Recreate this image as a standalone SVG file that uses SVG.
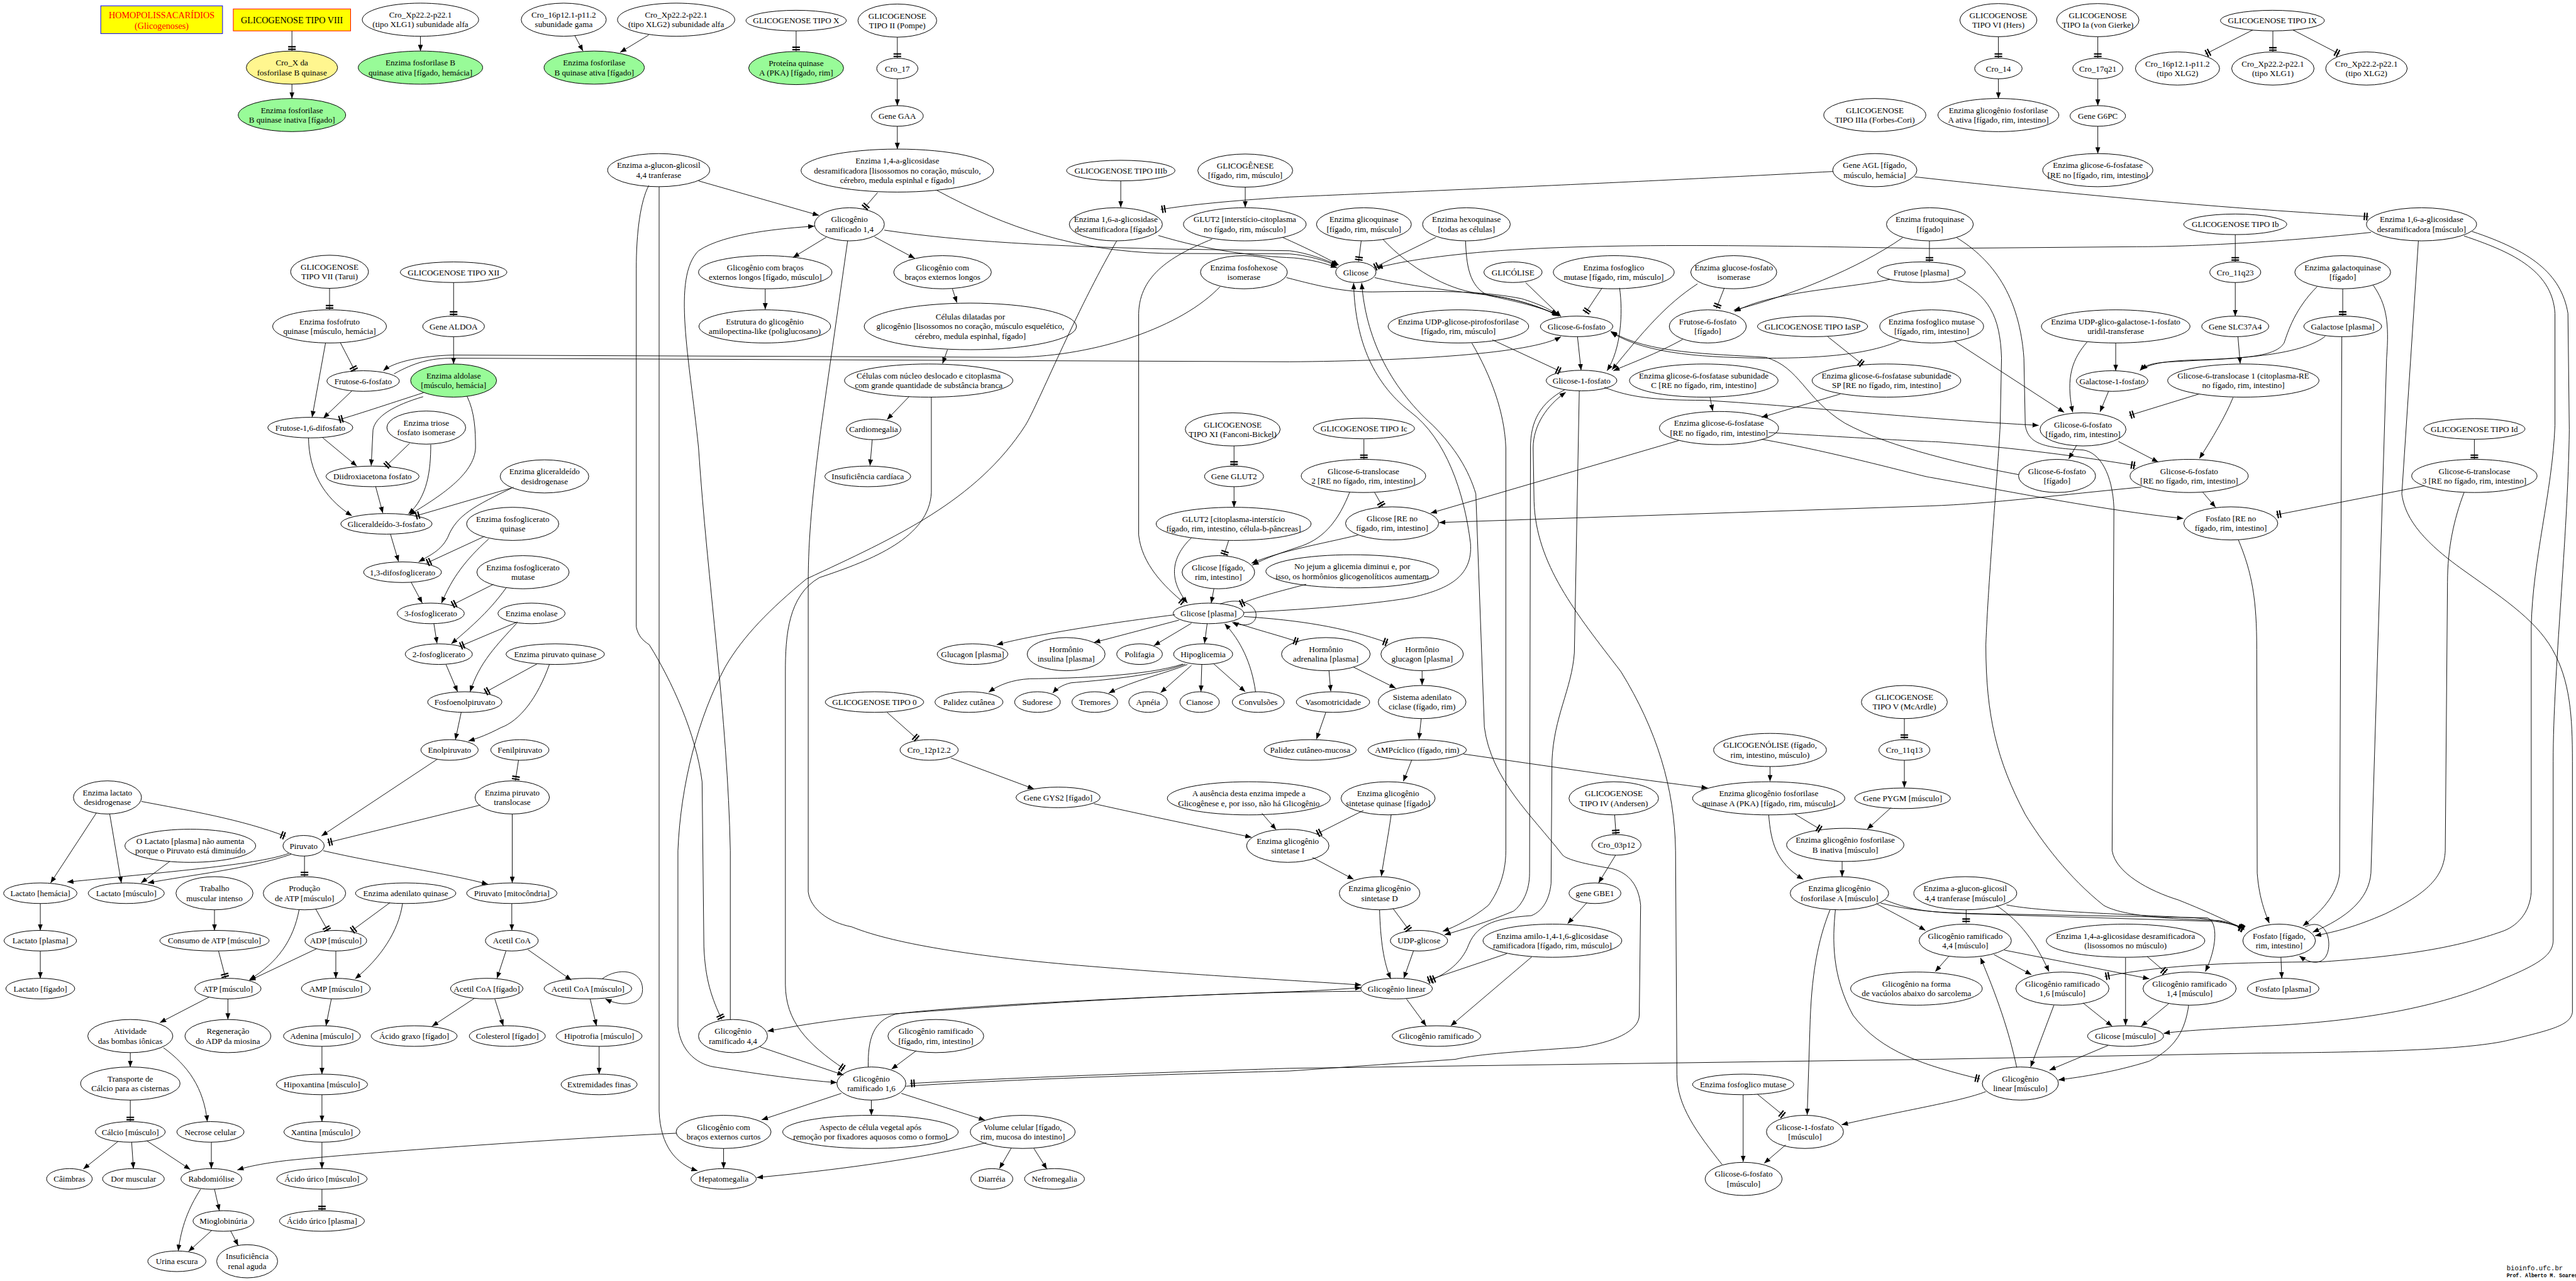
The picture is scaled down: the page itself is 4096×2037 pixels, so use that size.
<svg xmlns="http://www.w3.org/2000/svg" width="4096" height="2037" viewBox="0 0 4096 2037">
<defs>
<style>
ellipse{fill:#fff;stroke:#000;stroke-width:1.4}
ellipse.g{fill:#98fb98}
ellipse.y{fill:#fff68f}
text{font-family:"Liberation Serif","Times New Roman",serif;font-size:18.5px;text-anchor:middle;fill:#000}
#edges path{fill:none;stroke:#000;stroke-width:1.3}
#edges path.a{marker-end:url(#ah)}
#edges path.t{marker-end:url(#tt)}
</style>
<marker id="ah" viewBox="0 0 14 11" refX="14" refY="5.5" markerWidth="14" markerHeight="11" orient="auto" markerUnits="userSpaceOnUse"><path d="M0,0L14,5.5L0,11z" fill="#000"/></marker>
<marker id="tt" viewBox="-12 -9 12 18" refX="0" refY="0" markerWidth="12" markerHeight="18" orient="auto" markerUnits="userSpaceOnUse"><path d="M-11,-8.5h3v17h-3zM-5.5,-8.5h3v17h-3z" fill="#000"/></marker>
</defs>
<rect width="4096" height="2037" fill="#fff"/>
<g transform="scale(0.71198)">
<g id="nodes">
<g id="homo"><rect x="225" y="13" width="272" height="62" fill="#ff0" stroke="#00f" stroke-width="1.4"/><text x="361" y="41" fill="#f00" style="fill:#f00;font-size:20px">HOMOPOLISSACARÍDIOS<tspan x="361" dy="24">(Glicogenoses)</tspan></text></g>
<g id="gviii"><rect x="521" y="20" width="262" height="49" fill="#ff0" stroke="#f00" stroke-width="1.4"/><text x="652" y="51.5" style="font-size:20px">GLICOGENOSE TIPO VIII</text></g>
<g id="n3"><ellipse class="y" cx="652" cy="151" rx="102" ry="37"/><text x="652" y="146.5">Cro_X da<tspan x="652" dy="21.5">fosforilase B quinase</tspan></text></g>
<g id="n4"><ellipse class="g" cx="652" cy="257" rx="120" ry="37"/><text x="652" y="252.5">Enzima fosforilase<tspan x="652" dy="21.5">B quinase inativa [fígado]</tspan></text></g>
<g id="n5"><ellipse cx="939" cy="44" rx="130" ry="37"/><text x="939" y="39.5">Cro_Xp22.2-p22.1<tspan x="939" dy="21.5">(tipo XLG1) subunidade alfa</tspan></text></g>
<g id="n6"><ellipse class="g" cx="939" cy="151" rx="139" ry="37"/><text x="939" y="146.5">Enzima fosforilase B<tspan x="939" dy="21.5">quinase ativa [fígado, hemácia]</tspan></text></g>
<g id="n7"><ellipse cx="1259" cy="44" rx="95" ry="37"/><text x="1259" y="39.5">Cro_16p12.1-p11.2<tspan x="1259" dy="21.5">subunidade gama</tspan></text></g>
<g id="n8"><ellipse class="g" cx="1327" cy="151" rx="112" ry="37"/><text x="1327" y="146.5">Enzima fosforilase<tspan x="1327" dy="21.5">B quinase ativa [fígado]</tspan></text></g>
<g id="n9"><ellipse cx="1510" cy="44" rx="131" ry="37"/><text x="1510" y="39.5">Cro_Xp22.2-p22.1<tspan x="1510" dy="21.5">(tipo XLG2) subunidade alfa</tspan></text></g>
<g id="n10"><ellipse cx="1778" cy="46" rx="112" ry="23"/><text x="1778" y="52.5">GLICOGENOSE TIPO X</text></g>
<g id="n11"><ellipse class="g" cx="1778" cy="152" rx="106" ry="37"/><text x="1778" y="147.5">Proteína quinase<tspan x="1778" dy="21.5">A (PKA) [fígado, rim]</tspan></text></g>
<g id="n12"><ellipse cx="2004" cy="46" rx="88" ry="37"/><text x="2004" y="41.5">GLICOGENOSE<tspan x="2004" dy="21.5">TIPO II (Pompe)</tspan></text></g>
<g id="n13"><ellipse cx="2004" cy="153" rx="46" ry="23"/><text x="2004" y="159.5">Cro_17</text></g>
<g id="n14"><ellipse cx="2004" cy="259" rx="58" ry="23"/><text x="2004" y="265.5">Gene GAA</text></g>
<g id="n15"><ellipse cx="2004" cy="381" rx="215" ry="48"/><text x="2004" y="365.5">Enzima 1,4-a-glicosidase<tspan x="2004" dy="21.5">desramificadora [lisossomos no coração, músculo,</tspan><tspan x="2004" dy="21.5">cérebro, medula espinhal e fígado]</tspan></text></g>
<g id="n16"><ellipse cx="1471" cy="380" rx="114" ry="37"/><text x="1471" y="375.5">Enzima a-glucon-glicosil<tspan x="1471" dy="21.5">4,4 tranferase</tspan></text></g>
<g id="n17"><ellipse cx="1897" cy="501" rx="78" ry="37"/><text x="1897" y="496.5">Glicogênio<tspan x="1897" dy="21.5">ramificado 1,4</tspan></text></g>
<g id="n18"><ellipse cx="1709" cy="608" rx="149" ry="37"/><text x="1709" y="603.5">Glicogênio com braços<tspan x="1709" dy="21.5">externos longos [fígado, músculo]</tspan></text></g>
<g id="n19"><ellipse cx="2105" cy="608" rx="109" ry="37"/><text x="2105" y="603.5">Glicogênio com<tspan x="2105" dy="21.5">braços externos longos</tspan></text></g>
<g id="n20"><ellipse cx="1708" cy="729" rx="147" ry="37"/><text x="1708" y="724.5">Estrutura do glicogênio<tspan x="1708" dy="21.5">amilopectina-like (poliglucosano)</tspan></text></g>
<g id="n21"><ellipse cx="2167" cy="729" rx="237" ry="52"/><text x="2167" y="713.5">Células dilatadas por<tspan x="2167" dy="21.5">glicogênio [lisossomos no coração, músculo esquelético,</tspan><tspan x="2167" dy="21.5">cérebro, medula espinhal, fígado]</tspan></text></g>
<g id="n22"><ellipse cx="2074" cy="850" rx="188" ry="37"/><text x="2074" y="845.5">Células com núcleo deslocado e citoplasma<tspan x="2074" dy="21.5">com grande quantidade de substância branca</tspan></text></g>
<g id="n23"><ellipse cx="1951" cy="959" rx="61" ry="23"/><text x="1951" y="965.5">Cardiomegalia</text></g>
<g id="n24"><ellipse cx="1938" cy="1064" rx="96" ry="23"/><text x="1938" y="1070.5">Insuficiência cardíaca</text></g>
<g id="n25"><ellipse cx="2503" cy="381" rx="121" ry="23"/><text x="2503" y="387.5">GLICOGENOSE TIPO IIIb</text></g>
<g id="n26"><ellipse cx="2492" cy="501" rx="104" ry="37"/><text x="2492" y="496.5">Enzima 1,6-a-glicosidase<tspan x="2492" dy="21.5">desramificadora [fígado]</tspan></text></g>
<g id="n27"><ellipse cx="2781" cy="381" rx="106" ry="37"/><text x="2781" y="376.5">GLICOGÊNESE<tspan x="2781" dy="21.5">[fígado, rim, músculo]</tspan></text></g>
<g id="n28"><ellipse cx="2780" cy="501" rx="137" ry="37"/><text x="2780" y="496.5">GLUT2 [interstício-citoplasma<tspan x="2780" dy="21.5">no fígado, rim, músculo]</tspan></text></g>
<g id="n29"><ellipse cx="2778" cy="608" rx="97" ry="37"/><text x="2778" y="603.5">Enzima fosfohexose<tspan x="2778" dy="21.5">isomerase</tspan></text></g>
<g id="n30"><ellipse cx="4187" cy="257" rx="114" ry="37"/><text x="4187" y="252.5">GLICOGENOSE<tspan x="4187" dy="21.5">TIPO IIIa (Forbes-Cori)</tspan></text></g>
<g id="n31"><ellipse cx="4187" cy="380" rx="94" ry="37"/><text x="4187" y="375.5">Gene AGL [fígado,<tspan x="4187" dy="21.5">músculo, hemácia]</tspan></text></g>
<g id="n32"><ellipse cx="3046" cy="501" rx="106" ry="37"/><text x="3046" y="496.5">Enzima glicoquinase<tspan x="3046" dy="21.5">[fígado, rim, músculo]</tspan></text></g>
<g id="n33"><ellipse cx="3275" cy="501" rx="98" ry="37"/><text x="3275" y="496.5">Enzima hexoquinase<tspan x="3275" dy="21.5">[todas as células]</tspan></text></g>
<g id="n34"><ellipse cx="3028" cy="608" rx="45" ry="23"/><text x="3028" y="614.5">Glicose</text></g>
<g id="n35"><ellipse cx="3379" cy="608" rx="65" ry="23"/><text x="3379" y="614.5">GLICÓLISE</text></g>
<g id="n36"><ellipse cx="3604" cy="608" rx="135" ry="37"/><text x="3604" y="603.5">Enzima fosfoglico<tspan x="3604" dy="21.5">mutase [fígado, rim, músculo]</tspan></text></g>
<g id="n37"><ellipse cx="3872" cy="608" rx="96" ry="37"/><text x="3872" y="603.5">Enzima glucose-fosfato<tspan x="3872" dy="21.5">isomerase</tspan></text></g>
<g id="n38"><ellipse cx="4310" cy="501" rx="97" ry="37"/><text x="4310" y="496.5">Enzima frutoquinase<tspan x="4310" dy="21.5">[fígado]</tspan></text></g>
<g id="n39"><ellipse cx="4291" cy="608" rx="98" ry="23"/><text x="4291" y="614.5">Frutose [plasma]</text></g>
<g id="n40"><ellipse cx="3521" cy="729" rx="81" ry="23"/><text x="3521" y="735.5">Glicose-6-fosfato</text></g>
<g id="n41"><ellipse cx="3257" cy="729" rx="157" ry="37"/><text x="3257" y="724.5">Enzima UDP-glicose-pirofosforilase<tspan x="3257" dy="21.5">[fígado, rim, músculo]</tspan></text></g>
<g id="n42"><ellipse cx="3814" cy="729" rx="86" ry="37"/><text x="3814" y="724.5">Frutose-6-fosfato<tspan x="3814" dy="21.5">[fígado]</tspan></text></g>
<g id="n43"><ellipse cx="4048" cy="729" rx="123" ry="23"/><text x="4048" y="735.5">GLICOGENOSE TIPO IaSP</text></g>
<g id="n44"><ellipse cx="4314" cy="729" rx="116" ry="37"/><text x="4314" y="724.5">Enzima fosfoglico mutase<tspan x="4314" dy="21.5">[fígado, rim, intestino]</tspan></text></g>
<g id="n45"><ellipse cx="3532" cy="850" rx="79" ry="23"/><text x="3532" y="856.5">Glicose-1-fosfato</text></g>
<g id="n46"><ellipse cx="3805" cy="850" rx="166" ry="37"/><text x="3805" y="845.5">Enzima glicose-6-fosfatase subunidade<tspan x="3805" dy="21.5">C [RE no fígado, rim, intestino]</tspan></text></g>
<g id="n47"><ellipse cx="4213" cy="850" rx="166" ry="37"/><text x="4213" y="845.5">Enzima glicose-6-fosfatase subunidade<tspan x="4213" dy="21.5">SP [RE no fígado, rim, intestino]</tspan></text></g>
<g id="n48"><ellipse cx="3839" cy="956" rx="133" ry="37"/><text x="3839" y="951.5">Enzima glicose-6-fosfatase<tspan x="3839" dy="21.5">[RE no fígado, rim, intestino]</tspan></text></g>
<g id="n49"><ellipse cx="3046" cy="957" rx="113" ry="23"/><text x="3046" y="963.5">GLICOGENOSE TIPO Ic</text></g>
<g id="n50"><ellipse cx="4463" cy="45" rx="86" ry="37"/><text x="4463" y="40.5">GLICOGENOSE<tspan x="4463" dy="21.5">TIPO VI (Hers)</tspan></text></g>
<g id="n51"><ellipse cx="4463" cy="153" rx="53" ry="23"/><text x="4463" y="159.5">Cro_14</text></g>
<g id="n52"><ellipse cx="4463" cy="257" rx="135" ry="37"/><text x="4463" y="252.5">Enzima glicogênio fosforilase<tspan x="4463" dy="21.5">A ativa [fígado, rim, intestino]</tspan></text></g>
<g id="n53"><ellipse cx="4685" cy="45" rx="92" ry="37"/><text x="4685" y="40.5">GLICOGENOSE<tspan x="4685" dy="21.5">TIPO Ia (von Gierke)</tspan></text></g>
<g id="n54"><ellipse cx="4685" cy="153" rx="56" ry="23"/><text x="4685" y="159.5">Cro_17q21</text></g>
<g id="n55"><ellipse cx="4685" cy="259" rx="62" ry="23"/><text x="4685" y="265.5">Gene G6PC</text></g>
<g id="n56"><ellipse cx="4685" cy="380" rx="123" ry="37"/><text x="4685" y="375.5">Enzima glicose-6-fosfatase<tspan x="4685" dy="21.5">[RE no [fígado, rim, intestino]</tspan></text></g>
<g id="n57"><ellipse cx="5075" cy="46" rx="116" ry="23"/><text x="5075" y="52.5">GLICOGENOSE TIPO IX</text></g>
<g id="n58"><ellipse cx="4863" cy="153" rx="94" ry="37"/><text x="4863" y="148.5">Cro_16p12.1-p11.2<tspan x="4863" dy="21.5">(tipo XLG2)</tspan></text></g>
<g id="n59"><ellipse cx="5076" cy="153" rx="92" ry="37"/><text x="5076" y="148.5">Cro_Xp22.2-p22.1<tspan x="5076" dy="21.5">(tipo XLG1)</tspan></text></g>
<g id="n60"><ellipse cx="5285" cy="153" rx="91" ry="37"/><text x="5285" y="148.5">Cro_Xp22.2-p22.1<tspan x="5285" dy="21.5">(tipo XLG2)</tspan></text></g>
<g id="n61"><ellipse cx="5408" cy="501" rx="123" ry="37"/><text x="5408" y="496.5">Enzima 1,6-a-glicosidase<tspan x="5408" dy="21.5">desramificadora [músculo]</tspan></text></g>
<g id="n62"><ellipse cx="4992" cy="501" rx="115" ry="23"/><text x="4992" y="507.5">GLICOGENOSE TIPO Ib</text></g>
<g id="n63"><ellipse cx="4992" cy="608" rx="57" ry="23"/><text x="4992" y="614.5">Cro_11q23</text></g>
<g id="n64"><ellipse cx="4992" cy="729" rx="75" ry="23"/><text x="4992" y="735.5">Gene SLC37A4</text></g>
<g id="n65"><ellipse cx="5010" cy="850" rx="169" ry="37"/><text x="5010" y="845.5">Glicose-6-translocase 1 (citoplasma-RE<tspan x="5010" dy="21.5">no fígado, rim, intestino]</tspan></text></g>
<g id="n66"><ellipse cx="5232" cy="608" rx="107" ry="37"/><text x="5232" y="603.5">Enzima galactoquinase<tspan x="5232" dy="21.5">[fígado]</tspan></text></g>
<g id="n67"><ellipse cx="5232" cy="729" rx="87" ry="23"/><text x="5232" y="735.5">Galactose [plasma]</text></g>
<g id="n68"><ellipse cx="4725" cy="729" rx="166" ry="37"/><text x="4725" y="724.5">Enzima UDP-glico-galactose-1-fosfato<tspan x="4725" dy="21.5">uridil-transferase</tspan></text></g>
<g id="n69"><ellipse cx="4717" cy="851" rx="80" ry="23"/><text x="4717" y="857.5">Galactose-1-fosfato</text></g>
<g id="n70"><ellipse cx="4652" cy="959" rx="96" ry="37"/><text x="4652" y="954.5">Glicose-6-fosfato<tspan x="4652" dy="21.5">[fígado, rim, intestino]</tspan></text></g>
<g id="n71"><ellipse cx="5526" cy="958" rx="113" ry="23"/><text x="5526" y="964.5">GLICOGENOSE TIPO Id</text></g>
<g id="n72"><ellipse cx="4594" cy="1063" rx="86" ry="37"/><text x="4594" y="1058.5">Glicose-6-fosfato<tspan x="4594" dy="21.5">[fígado]</tspan></text></g>
<g id="n73"><ellipse cx="4889" cy="1063" rx="132" ry="37"/><text x="4889" y="1058.5">Glicose-6-fosfato<tspan x="4889" dy="21.5">[RE no fígado, rim, intestino]</tspan></text></g>
<g id="n74"><ellipse cx="5526" cy="1063" rx="140" ry="37"/><text x="5526" y="1058.5">Glicose-6-translocase<tspan x="5526" dy="21.5">3 [RE no fígado, rim, intestino]</tspan></text></g>
<g id="n75"><ellipse cx="4982" cy="1169" rx="105" ry="37"/><text x="4982" y="1164.5">Fosfato [RE no<tspan x="4982" dy="21.5">fígado, rim, intestino]</tspan></text></g>
<g id="n76"><ellipse cx="3045" cy="1063" rx="139" ry="37"/><text x="3045" y="1058.5">Glicose-6-translocase<tspan x="3045" dy="21.5">2 [RE no fígado, rim, intestino]</tspan></text></g>
<g id="n77"><ellipse cx="3109" cy="1169" rx="104" ry="37"/><text x="3109" y="1164.5">Glicose [RE no<tspan x="3109" dy="21.5">fígado, rim, intestino]</tspan></text></g>
<g id="n78"><ellipse cx="3020" cy="1276" rx="193" ry="37"/><text x="3020" y="1271.5">No jejum a glicemia diminui e, por<tspan x="3020" dy="21.5">isso, os hormônios glicogenolíticos aumentam</tspan></text></g>
<g id="n79"><ellipse cx="2721" cy="1278" rx="81" ry="37"/><text x="2721" y="1273.5">Glicose [fígado,<tspan x="2721" dy="21.5">rim, intestino]</tspan></text></g>
<g id="n80"><ellipse cx="2699" cy="1370" rx="79" ry="23"/><text x="2699" y="1376.5">Glicose [plasma]</text></g>
<g id="n81"><ellipse cx="2961" cy="1461" rx="99" ry="37"/><text x="2961" y="1456.5">Hormônio<tspan x="2961" dy="21.5">adrenalina [plasma]</tspan></text></g>
<g id="n82"><ellipse cx="3176" cy="1461" rx="92" ry="37"/><text x="3176" y="1456.5">Hormônio<tspan x="3176" dy="21.5">glucagon [plasma]</tspan></text></g>
<g id="n83"><ellipse cx="2977" cy="1568" rx="82" ry="23"/><text x="2977" y="1574.5">Vasomotricidade</text></g>
<g id="n84"><ellipse cx="3176" cy="1568" rx="98" ry="37"/><text x="3176" y="1563.5">Sistema adenilato<tspan x="3176" dy="21.5">ciclase (fígado, rim)</tspan></text></g>
<g id="n85"><ellipse cx="2926" cy="1675" rx="103" ry="23"/><text x="2926" y="1681.5">Palidez cutâneo-mucosa</text></g>
<g id="n86"><ellipse cx="3165" cy="1675" rx="110" ry="23"/><text x="3165" y="1681.5">AMPcíclico (fígado, rim)</text></g>
<g id="n87"><ellipse cx="3100" cy="1783" rx="105" ry="37"/><text x="3100" y="1778.5">Enzima glicogênio<tspan x="3100" dy="21.5">sintetase quinase [fígado]</tspan></text></g>
<g id="n88"><ellipse cx="2789" cy="1783" rx="182" ry="37"/><text x="2789" y="1778.5">A ausência desta enzima impede a<tspan x="2789" dy="21.5">Glicogênese e, por isso, não há Glicogênio</tspan></text></g>
<g id="n89"><ellipse cx="2876" cy="1889" rx="92" ry="37"/><text x="2876" y="1884.5">Enzima glicogênio<tspan x="2876" dy="21.5">sintetase I</tspan></text></g>
<g id="n90"><ellipse cx="3604" cy="1783" rx="100" ry="37"/><text x="3604" y="1778.5">GLICOGENOSE<tspan x="3604" dy="21.5">TIPO IV (Andersen)</tspan></text></g>
<g id="n91"><ellipse cx="3610" cy="1887" rx="55" ry="23"/><text x="3610" y="1893.5">Cro_03p12</text></g>
<g id="n92"><ellipse cx="3953" cy="1675" rx="126" ry="37"/><text x="3953" y="1670.5">GLICOGENÓLISE (fígado,<tspan x="3953" dy="21.5">rim, intestino, músculo)</tspan></text></g>
<g id="n93"><ellipse cx="3950" cy="1783" rx="170" ry="37"/><text x="3950" y="1778.5">Enzima glicogênio fosforilase<tspan x="3950" dy="21.5">quinase A (PKA) [fígado, rim, músculo]</tspan></text></g>
<g id="n94"><ellipse cx="4253" cy="1568" rx="96" ry="37"/><text x="4253" y="1563.5">GLICOGENOSE<tspan x="4253" dy="21.5">TIPO V (McArdle)</tspan></text></g>
<g id="n95"><ellipse cx="4253" cy="1675" rx="57" ry="23"/><text x="4253" y="1681.5">Cro_11q13</text></g>
<g id="n96"><ellipse cx="4249" cy="1783" rx="107" ry="23"/><text x="4249" y="1789.5">Gene PYGM [músculo]</text></g>
<g id="n97"><ellipse cx="4121" cy="1887" rx="131" ry="37"/><text x="4121" y="1882.5">Enzima glicogênio fosforilase<tspan x="4121" dy="21.5">B inativa [músculo]</tspan></text></g>
<g id="n98"><ellipse cx="2753" cy="959" rx="106" ry="37"/><text x="2753" y="954.5">GLICOGENOSE<tspan x="2753" dy="21.5">TIPO XI (Fanconi-Bickel)</tspan></text></g>
<g id="n99"><ellipse cx="2756" cy="1064" rx="66" ry="23"/><text x="2756" y="1070.5">Gene GLUT2</text></g>
<g id="n100"><ellipse cx="2755" cy="1170" rx="173" ry="37"/><text x="2755" y="1165.5">GLUT2 [citoplasma-interstício<tspan x="2755" dy="21.5">fígado, rim, intestino, célula-b-pâncreas]</tspan></text></g>
<g id="n101"><ellipse cx="2172" cy="1461" rx="79" ry="23"/><text x="2172" y="1467.5">Glucagon [plasma]</text></g>
<g id="n102"><ellipse cx="2381" cy="1461" rx="87" ry="37"/><text x="2381" y="1456.5">Hormônio<tspan x="2381" dy="21.5">insulina [plasma]</tspan></text></g>
<g id="n103"><ellipse cx="2545" cy="1461" rx="51" ry="23"/><text x="2545" y="1467.5">Polifagia</text></g>
<g id="n104"><ellipse cx="2687" cy="1461" rx="66" ry="23"/><text x="2687" y="1467.5">Hipoglicemia</text></g>
<g id="n105"><ellipse cx="2164" cy="1568" rx="76" ry="23"/><text x="2164" y="1574.5">Palidez cutânea</text></g>
<g id="n106"><ellipse cx="2317" cy="1568" rx="51" ry="23"/><text x="2317" y="1574.5">Sudorese</text></g>
<g id="n107"><ellipse cx="2445" cy="1568" rx="51" ry="23"/><text x="2445" y="1574.5">Tremores</text></g>
<g id="n108"><ellipse cx="2564" cy="1568" rx="43" ry="23"/><text x="2564" y="1574.5">Apnéia</text></g>
<g id="n109"><ellipse cx="2679" cy="1568" rx="44" ry="23"/><text x="2679" y="1574.5">Cianose</text></g>
<g id="n110"><ellipse cx="2810" cy="1568" rx="58" ry="23"/><text x="2810" y="1574.5">Convulsões</text></g>
<g id="n111"><ellipse cx="1953" cy="1568" rx="110" ry="23"/><text x="1953" y="1574.5">GLICOGENOSE TIPO 0</text></g>
<g id="n112"><ellipse cx="2075" cy="1675" rx="65" ry="23"/><text x="2075" y="1681.5">Cro_12p12.2</text></g>
<g id="n113"><ellipse cx="2363" cy="1781" rx="94" ry="23"/><text x="2363" y="1787.5">Gene GYS2 [fígado]</text></g>
<g id="n114"><ellipse cx="736" cy="607" rx="87" ry="37"/><text x="736" y="602.5">GLICOGENOSE<tspan x="736" dy="21.5">TIPO VII (Tarui)</tspan></text></g>
<g id="n115"><ellipse cx="736" cy="729" rx="127" ry="37"/><text x="736" y="724.5">Enzima fosfofruto<tspan x="736" dy="21.5">quinase [músculo, hemácia]</tspan></text></g>
<g id="n116"><ellipse cx="1013" cy="608" rx="119" ry="23"/><text x="1013" y="614.5">GLICOGENOSE TIPO XII</text></g>
<g id="n117"><ellipse cx="1013" cy="729" rx="69" ry="23"/><text x="1013" y="735.5">Gene ALDOA</text></g>
<g id="n118"><ellipse class="g" cx="1013" cy="850" rx="96" ry="37"/><text x="1013" y="845.5">Enzima aldolase<tspan x="1013" dy="21.5">[músculo, hemácia]</tspan></text></g>
<g id="n119"><ellipse cx="811" cy="851" rx="81" ry="23"/><text x="811" y="857.5">Frutose-6-fosfato</text></g>
<g id="n120"><ellipse cx="693" cy="955" rx="95" ry="23"/><text x="693" y="961.5">Frutose-1,6-difosfato</text></g>
<g id="n121"><ellipse cx="952" cy="955" rx="88" ry="37"/><text x="952" y="950.5">Enzima triose<tspan x="952" dy="21.5">fosfato isomerase</tspan></text></g>
<g id="n122"><ellipse cx="832" cy="1064" rx="104" ry="23"/><text x="832" y="1070.5">Diidroxiacetona fosfato</text></g>
<g id="n123"><ellipse cx="1216" cy="1064" rx="99" ry="37"/><text x="1216" y="1059.5">Enzima gliceraldeído<tspan x="1216" dy="21.5">desidrogenase</tspan></text></g>
<g id="n124"><ellipse cx="863" cy="1170" rx="102" ry="23"/><text x="863" y="1176.5">Gliceraldeído-3-fosfato</text></g>
<g id="n125"><ellipse cx="1145" cy="1170" rx="103" ry="37"/><text x="1145" y="1165.5">Enzima fosfoglicerato<tspan x="1145" dy="21.5">quinase</tspan></text></g>
<g id="n126"><ellipse cx="899" cy="1278" rx="87" ry="23"/><text x="899" y="1284.5">1,3-difosfoglicerato</text></g>
<g id="n127"><ellipse cx="1168" cy="1278" rx="103" ry="37"/><text x="1168" y="1273.5">Enzima fosfoglicerato<tspan x="1168" dy="21.5">mutase</tspan></text></g>
<g id="n128"><ellipse cx="962" cy="1370" rx="75" ry="23"/><text x="962" y="1376.5">3-fosfoglicerato</text></g>
<g id="n129"><ellipse cx="1187" cy="1370" rx="75" ry="23"/><text x="1187" y="1376.5">Enzima enolase</text></g>
<g id="n130"><ellipse cx="980" cy="1461" rx="75" ry="23"/><text x="980" y="1467.5">2-fosfoglicerato</text></g>
<g id="n131"><ellipse cx="1240" cy="1461" rx="110" ry="23"/><text x="1240" y="1467.5">Enzima piruvato quinase</text></g>
<g id="n132"><ellipse cx="1038" cy="1568" rx="83" ry="23"/><text x="1038" y="1574.5">Fosfoenolpiruvato</text></g>
<g id="n133"><ellipse cx="1004" cy="1675" rx="64" ry="23"/><text x="1004" y="1681.5">Enolpiruvato</text></g>
<g id="n134"><ellipse cx="1161" cy="1675" rx="65" ry="23"/><text x="1161" y="1681.5">Fenilpiruvato</text></g>
<g id="n135"><ellipse cx="240" cy="1781" rx="76" ry="37"/><text x="240" y="1776.5">Enzima lactato<tspan x="240" dy="21.5">desidrogenase</tspan></text></g>
<g id="n136"><ellipse cx="1144" cy="1781" rx="83" ry="37"/><text x="1144" y="1776.5">Enzima piruvato<tspan x="1144" dy="21.5">translocase</tspan></text></g>
<g id="n137"><ellipse cx="425" cy="1889" rx="146" ry="37"/><text x="425" y="1884.5">O Lactato [plasma] não aumenta<tspan x="425" dy="21.5">porque o Piruvato está diminuído</tspan></text></g>
<g id="n138"><ellipse cx="678" cy="1889" rx="46" ry="23"/><text x="678" y="1895.5">Piruvato</text></g>
<g id="n139"><ellipse cx="90" cy="1995" rx="82" ry="23"/><text x="90" y="2001.5">Lactato [hemácia]</text></g>
<g id="n140"><ellipse cx="282" cy="1995" rx="85" ry="23"/><text x="282" y="2001.5">Lactato [músculo]</text></g>
<g id="n141"><ellipse cx="479" cy="1995" rx="86" ry="37"/><text x="479" y="1990.5">Trabalho<tspan x="479" dy="21.5">muscular intenso</tspan></text></g>
<g id="n142"><ellipse cx="680" cy="1995" rx="92" ry="37"/><text x="680" y="1990.5">Produção<tspan x="680" dy="21.5">de ATP [músculo]</tspan></text></g>
<g id="n143"><ellipse cx="906" cy="1995" rx="112" ry="23"/><text x="906" y="2001.5">Enzima adenilato quinase</text></g>
<g id="n144"><ellipse cx="1143" cy="1995" rx="101" ry="23"/><text x="1143" y="2001.5">Piruvato [mitocôndria]</text></g>
<g id="n145"><ellipse cx="90" cy="2101" rx="81" ry="23"/><text x="90" y="2107.5">Lactato [plasma]</text></g>
<g id="n146"><ellipse cx="479" cy="2101" rx="122" ry="23"/><text x="479" y="2107.5">Consumo de ATP [músculo]</text></g>
<g id="n147"><ellipse cx="750" cy="2101" rx="69" ry="23"/><text x="750" y="2107.5">ADP [músculo]</text></g>
<g id="n148"><ellipse cx="1143" cy="2101" rx="59" ry="23"/><text x="1143" y="2107.5">Acetil CoA</text></g>
<g id="n149"><ellipse cx="90" cy="2208" rx="77" ry="23"/><text x="90" y="2214.5">Lactato [fígado]</text></g>
<g id="n150"><ellipse cx="509" cy="2208" rx="74" ry="23"/><text x="509" y="2214.5">ATP [músculo]</text></g>
<g id="n151"><ellipse cx="750" cy="2208" rx="77" ry="23"/><text x="750" y="2214.5">AMP [músculo]</text></g>
<g id="n152"><ellipse cx="1087" cy="2208" rx="81" ry="23"/><text x="1087" y="2214.5">Acetil CoA [fígado]</text></g>
<g id="n153"><ellipse cx="1313" cy="2208" rx="98" ry="23"/><text x="1313" y="2214.5">Acetil CoA [músculo]</text></g>
<g id="n154"><ellipse cx="291" cy="2314" rx="95" ry="37"/><text x="291" y="2309.5">Atividade<tspan x="291" dy="21.5">das bombas iônicas</tspan></text></g>
<g id="n155"><ellipse cx="509" cy="2314" rx="96" ry="37"/><text x="509" y="2309.5">Regeneração<tspan x="509" dy="21.5">do ADP da miosina</tspan></text></g>
<g id="n156"><ellipse cx="719" cy="2314" rx="86" ry="23"/><text x="719" y="2320.5">Adenina [músculo]</text></g>
<g id="n157"><ellipse cx="925" cy="2314" rx="96" ry="23"/><text x="925" y="2320.5">Ácido graxo [fígado]</text></g>
<g id="n158"><ellipse cx="1133" cy="2314" rx="85" ry="23"/><text x="1133" y="2320.5">Colesterol [fígado]</text></g>
<g id="n159"><ellipse cx="1338" cy="2314" rx="96" ry="23"/><text x="1338" y="2320.5">Hipotrofia [músculo]</text></g>
<g id="n160"><ellipse cx="291" cy="2420" rx="111" ry="37"/><text x="291" y="2415.5">Transporte de<tspan x="291" dy="21.5">Cálcio para as cisternas</tspan></text></g>
<g id="n161"><ellipse cx="719" cy="2422" rx="102" ry="23"/><text x="719" y="2428.5">Hipoxantina [músculo]</text></g>
<g id="n162"><ellipse cx="1338" cy="2422" rx="85" ry="23"/><text x="1338" y="2428.5">Extremidades finas</text></g>
<g id="n163"><ellipse cx="291" cy="2528" rx="78" ry="23"/><text x="291" y="2534.5">Cálcio [músculo]</text></g>
<g id="n164"><ellipse cx="470" cy="2528" rx="75" ry="23"/><text x="470" y="2534.5">Necrose celular</text></g>
<g id="n165"><ellipse cx="719" cy="2528" rx="85" ry="23"/><text x="719" y="2534.5">Xantina [músculo]</text></g>
<g id="n166"><ellipse cx="155" cy="2633" rx="51" ry="23"/><text x="155" y="2639.5">Câimbras</text></g>
<g id="n167"><ellipse cx="298" cy="2633" rx="69" ry="23"/><text x="298" y="2639.5">Dor muscular</text></g>
<g id="n168"><ellipse cx="472" cy="2633" rx="68" ry="23"/><text x="472" y="2639.5">Rabdomiólise</text></g>
<g id="n169"><ellipse cx="719" cy="2633" rx="101" ry="23"/><text x="719" y="2639.5">Ácido úrico [músculo]</text></g>
<g id="n170"><ellipse cx="499" cy="2727" rx="68" ry="23"/><text x="499" y="2733.5">Mioglobinúria</text></g>
<g id="n171"><ellipse cx="719" cy="2727" rx="95" ry="23"/><text x="719" y="2733.5">Ácido úrico [plasma]</text></g>
<g id="n172"><ellipse cx="395" cy="2817" rx="65" ry="23"/><text x="395" y="2823.5">Urina escura</text></g>
<g id="n173"><ellipse cx="552" cy="2817" rx="68" ry="37"/><text x="552" y="2812.5">Insuficiência<tspan x="552" dy="21.5">renal aguda</tspan></text></g>
<g id="n174"><ellipse cx="1637" cy="2314" rx="77" ry="37"/><text x="1637" y="2309.5">Glicogênio<tspan x="1637" dy="21.5">ramificado 4,4</tspan></text></g>
<g id="n175"><ellipse cx="2090" cy="2314" rx="107" ry="37"/><text x="2090" y="2309.5">Glicogênio ramificado<tspan x="2090" dy="21.5">[fígado, rim, intestino]</tspan></text></g>
<g id="n176"><ellipse cx="1946" cy="2420" rx="77" ry="37"/><text x="1946" y="2415.5">Glicogênio<tspan x="1946" dy="21.5">ramificado 1,6</tspan></text></g>
<g id="n177"><ellipse cx="1616" cy="2528" rx="106" ry="37"/><text x="1616" y="2523.5">Glicogênio com<tspan x="1616" dy="21.5">braços externos curtos</tspan></text></g>
<g id="n178"><ellipse cx="1944" cy="2528" rx="196" ry="37"/><text x="1944" y="2523.5">Aspecto de célula vegetal após<tspan x="1944" dy="21.5">remoção por fixadores aquosos como o formol</tspan></text></g>
<g id="n179"><ellipse cx="2284" cy="2528" rx="117" ry="37"/><text x="2284" y="2523.5">Volume celular [fígado,<tspan x="2284" dy="21.5">rim, mucosa do intestino]</tspan></text></g>
<g id="n180"><ellipse cx="1616" cy="2633" rx="73" ry="23"/><text x="1616" y="2639.5">Hepatomegalia</text></g>
<g id="n181"><ellipse cx="2215" cy="2633" rx="47" ry="23"/><text x="2215" y="2639.5">Diarréia</text></g>
<g id="n182"><ellipse cx="2355" cy="2633" rx="67" ry="23"/><text x="2355" y="2639.5">Nefromegalia</text></g>
<g id="n183"><ellipse cx="3081" cy="1995" rx="90" ry="37"/><text x="3081" y="1990.5">Enzima glicogênio<tspan x="3081" dy="21.5">sintetase D</tspan></text></g>
<g id="n184"><ellipse cx="3562" cy="1995" rx="58" ry="23"/><text x="3562" y="2001.5">gene GBE1</text></g>
<g id="n185"><ellipse cx="3169" cy="2101" rx="64" ry="23"/><text x="3169" y="2107.5">UDP-glicose</text></g>
<g id="n186"><ellipse cx="3467" cy="2101" rx="155" ry="37"/><text x="3467" y="2096.5">Enzima amilo-1,4-1,6-glicosidase<tspan x="3467" dy="21.5">ramificadora [fígado, rim, músculo]</tspan></text></g>
<g id="n187"><ellipse cx="3119" cy="2208" rx="80" ry="23"/><text x="3119" y="2214.5">Glicogênio linear</text></g>
<g id="n188"><ellipse cx="3208" cy="2314" rx="99" ry="23"/><text x="3208" y="2320.5">Glicogênio ramificado</text></g>
<g id="n189"><ellipse cx="4108" cy="1995" rx="110" ry="37"/><text x="4108" y="1990.5">Enzima glicogênio<tspan x="4108" dy="21.5">fosforilase A [músculo]</tspan></text></g>
<g id="n190"><ellipse cx="4389" cy="1995" rx="115" ry="37"/><text x="4389" y="1990.5">Enzima a-glucon-glicosil<tspan x="4389" dy="21.5">4,4 tranferase [músculo]</tspan></text></g>
<g id="n191"><ellipse cx="4389" cy="2101" rx="103" ry="37"/><text x="4389" y="2096.5">Glicogênio ramificado<tspan x="4389" dy="21.5">4,4 [músculo]</tspan></text></g>
<g id="n192"><ellipse cx="4280" cy="2208" rx="147" ry="37"/><text x="4280" y="2203.5">Glicogênio na forma<tspan x="4280" dy="21.5">de vacúolos abaixo do sarcolema</tspan></text></g>
<g id="n193"><ellipse cx="3893" cy="2422" rx="113" ry="23"/><text x="3893" y="2428.5">Enzima fosfoglico mutase</text></g>
<g id="n194"><ellipse cx="4031" cy="2528" rx="86" ry="37"/><text x="4031" y="2523.5">Glicose-1-fosfato<tspan x="4031" dy="21.5">[músculo]</tspan></text></g>
<g id="n195"><ellipse cx="3894" cy="2633" rx="86" ry="37"/><text x="3894" y="2628.5">Glicose-6-fosfato<tspan x="3894" dy="21.5">[músculo]</tspan></text></g>
<g id="n196"><ellipse cx="4747" cy="2101" rx="177" ry="37"/><text x="4747" y="2096.5">Enzima 1,4-a-glicosidase desramificadora<tspan x="4747" dy="21.5">(lisossomos no músculo)</tspan></text></g>
<g id="n197"><ellipse cx="5090" cy="2101" rx="81" ry="37"/><text x="5090" y="2096.5">Fosfato [fígado,<tspan x="5090" dy="21.5">rim, intestino]</tspan></text></g>
<g id="n198"><ellipse cx="4606" cy="2208" rx="104" ry="37"/><text x="4606" y="2203.5">Glicogênio ramificado<tspan x="4606" dy="21.5">1,6 [músculo]</tspan></text></g>
<g id="n199"><ellipse cx="4890" cy="2208" rx="104" ry="37"/><text x="4890" y="2203.5">Glicogênio ramificado<tspan x="4890" dy="21.5">1,4 [músculo]</tspan></text></g>
<g id="n200"><ellipse cx="5099" cy="2208" rx="80" ry="23"/><text x="5099" y="2214.5">Fosfato [plasma]</text></g>
<g id="n201"><ellipse cx="4747" cy="2314" rx="85" ry="23"/><text x="4747" y="2320.5">Glicose [músculo]</text></g>
<g id="n202"><ellipse cx="4512" cy="2420" rx="85" ry="37"/><text x="4512" y="2415.5">Glicogênio<tspan x="4512" dy="21.5">linear [músculo]</tspan></text></g>
<g id="footer"><text x="5598" y="2837" style="font-family:'Liberation Mono',monospace;font-size:15px;text-anchor:start">bioinfo.ufc.br</text><text x="5598" y="2853" style="font-family:'Liberation Mono',monospace;font-size:11.5px;font-weight:bold;text-anchor:start">Prof. Alberto M. Soares</text></g>
</g>
<g id="edges">
<path class="t" d="M652,69L652,114"/>
<path class="a" d="M652,188L652,220"/>
<path class="a" d="M939,81L939,114"/>
<path class="a" d="M1284,80L1302,114"/>
<path class="a" d="M1449,78L1385,117"/>
<path class="t" d="M736,644L736,692"/>
<path class="t" d="M1013,631L1013,706"/>
<path class="a" d="M1013,752L1013,813"/>
<path class="t" d="M760,765L793,829"/>
<path class="a" d="M727,766L697,932"/>
<path class="a" d="M786,873L722,934"/>
<path class="t" d="M946,877C890,895 800,925 755,938"/>
<path class="a" d="M2725,640C2640,730 2450,795 2270,798L1010,793C940,795 880,808 856,828"/>
<path class="a" d="M880,835C925,810 960,800 1010,800L2880,808C3150,806 3420,790 3486,752"/>
<path class="t" d="M1778,69L1778,115"/>
<path class="t" d="M2004,83L2004,130"/>
<path class="a" d="M2004,176L2004,236"/>
<path class="a" d="M2004,282L2004,333"/>
<path class="t" d="M1960,430L1929,466"/>
<path class="a" d="M2092,425C2250,510 2400,560 2600,566L2880,567C2920,570 2960,582 2986,594"/>
<path class="a" d="M1975,514C2150,540 2350,550 2600,556L2880,560C2920,565 2960,580 2987,592"/>
<path class="a" d="M1560,404L1829,481"/>
<path class="a" d="M1845,530L1771,575"/>
<path class="a" d="M1953,529L2043,577"/>
<path class="a" d="M1709,645L1709,691"/>
<path class="a" d="M2127,645L2137,676"/>
<path class="a" d="M2116,781L2105,812"/>
<path class="a" d="M2030,886L1981,937"/>
<path class="a" d="M1948,982L1943,1040"/>
<path class="t" d="M2080,887L2080,1100C2075,1200 1950,1250 1830,1290C1760,1330 1754,1420 1754,1500L1754,2200C1755,2280 1800,2330 1886,2388"/>
<path class="a" d="M1893,538L1833,960C1815,1100 1805,1200 1805,1300L1805,1992C1810,2030 1850,2060 1902,2070C2000,2110 2200,2140 2457,2160C2700,2180 2900,2190 3040,2200"/>
<path class="t" d="M1449,414C1430,450 1421,520 1421,600L1421,1400C1425,1420 1435,1430 1450,1440C1500,1520 1555,1640 1568,1746L1572,2114C1575,2190 1590,2230 1612,2277"/>
<path class="a" d="M1472,417L1472,2482C1475,2560 1510,2600 1558,2615"/>
<path class="a" d="M1631,2277L1631,1900C1625,1600 1580,1300 1560,1000C1540,800 1500,620 1560,560C1620,520 1750,510 1819,505"/>
<path class="a" d="M2494,538C2400,700 2320,900 2290,950C2180,1120 2000,1200 1801,1293C1720,1360 1660,1420 1620,1489C1560,1600 1520,1750 1514,1900L1514,2292C1520,2350 1560,2380 1602,2384C1700,2400 1790,2412 1869,2418"/>
<path class="t" d="M2707,534C2620,570 2545,612 2543,700L2543,1195C2550,1260 2600,1310 2645,1347"/>
<path class="a" d="M2587,526C2700,560 2800,572 2890,576C2930,580 2960,588 2986,598"/>
<path class="a" d="M2781,418L2781,463"/>
<path class="a" d="M2503,404L2503,463"/>
<path class="a" d="M2864,530C2920,555 2960,575 2990,592"/>
<path class="a" d="M2873,620C2950,640 3000,652 3065,652C3200,650 3300,648 3398,667C3440,680 3460,690 3478,703"/>
<path class="t" d="M3040,538L3034,584"/>
<path class="t" d="M3207,530L3068,598"/>
<path class="a" d="M3088,534C3150,600 3230,645 3300,655C3400,668 3450,690 3480,705"/>
<path class="a" d="M3273,538C3275,590 3280,640 3324,660C3380,672 3440,685 3481,704"/>
<path class="a" d="M3070,620C3150,640 3250,650 3330,660C3400,670 3450,690 3482,706"/>
<path class="a" d="M3407,631L3486,707"/>
<path class="t" d="M3578,643L3540,700"/>
<path class="a" d="M3617,643C3625,700 3620,780 3589,828"/>
<path class="t" d="M3851,643L3833,689"/>
<path class="a" d="M3791,634C3720,680 3670,740 3600,826"/>
<path class="a" d="M4249,531C4150,600 4000,660 3872,693"/>
<path class="a" d="M4221,624C4120,645 3960,650 3874,696"/>
<path class="t" d="M4309,538L4309,585"/>
<path class="a" d="M5295,519C5100,540 4900,551 4772,551L4310,555C3900,548 3500,540 3250,569C3150,580 3110,590 3074,598"/>
<path class="a" d="M3758,758C3700,790 3640,812 3603,828"/>
<path class="t" d="M4093,383C3600,410 3100,430 2880,440C2750,448 2650,458 2592,468"/>
<path class="t" d="M3333,759L3486,830"/>
<path class="a" d="M3287,766C3330,840 3360,920 3363,1000L3363,1900C3363,1960 3340,2000 3324,2022C3290,2050 3250,2070 3222,2080"/>
<path class="a" d="M3523,752L3531,827"/>
<path class="t" d="M3527,873L3516,1458C3510,1540 3470,1600 3466,1700L3464,1973C3460,2010 3445,2035 3420,2045C3350,2050 3300,2060 3280,2110C3265,2150 3230,2175 3194,2190"/>
<path class="a" d="M3495,870C3440,900 3418,940 3418,1000L3416,1950C3416,1990 3400,2020 3380,2035C3320,2060 3270,2075 3226,2088"/>
<path class="a" d="M3846,2601C3790,2530 3745,2470 3745,2400L3742,1900C3740,1760 3700,1630 3620,1500C3520,1370 3430,1260 3426,1120L3424,1000C3424,950 3455,905 3497,876"/>
<path class="t" d="M4463,82L4463,130"/>
<path class="a" d="M4463,176L4463,220"/>
<path class="t" d="M4685,82L4685,130"/>
<path class="a" d="M4685,176L4685,236"/>
<path class="a" d="M4685,282L4685,343"/>
<path class="t" d="M5031,67L4925,121"/>
<path class="t" d="M5076,69L5076,116"/>
<path class="t" d="M5121,67L5225,121"/>
<path class="t" d="M4992,524L4992,585"/>
<path class="a" d="M4992,631L4992,706"/>
<path class="t" d="M5232,645L5232,706"/>
<path class="t" d="M5526,981L5526,1026"/>
<path class="t" d="M4276,395C4500,420 4800,450 5050,468C5150,475 5230,480 5290,484"/>
<path class="t" d="M4370,531C4450,580 4510,660 4520,800L4523,950C4530,990 4560,1000 4652,1005C4690,1010 4718,1060 4721,1134L4717,1900C4725,1950 4800,1990 4865,2010C4940,2040 4980,2060 5012,2076"/>
<path class="a" d="M4370,624C4440,660 4467,704 4470,800L4467,950C4462,1050 4440,1300 4435,1440C4435,1600 4460,1700 4523,1819C4560,1880 4620,1960 4698,2022C4730,2040 4800,2052 4957,2056C4980,2060 5000,2068 5012,2074"/>
<path class="a" d="M4365,762L4610,921"/>
<path class="a" d="M4725,766L4725,828"/>
<path class="a" d="M4661,764C4630,800 4612,840 4629,921"/>
<path class="a" d="M4709,874L4690,920"/>
<path class="a" d="M4998,752L5003,812"/>
<path class="a" d="M5175,640C5125,690 5110,740 5101,766C5080,800 5000,800 4850,808C4810,810 4790,815 4779,828"/>
<path class="a" d="M5193,751C5150,785 5050,800 4900,804C4840,806 4800,812 4782,826"/>
<path class="t" d="M4911,880L4755,928"/>
<path class="a" d="M4987,888C4970,930 4940,980 4912,1024"/>
<path class="a" d="M5230,752L5225,1950C5220,2000 5180,2040 5143,2068"/>
<path class="a" d="M5300,637C5330,680 5336,720 5330,800L5295,1950C5290,2010 5240,2050 5165,2082"/>
<path class="t" d="M5401,538L5364,1103C5370,1150 5400,1200 5494,1268C5580,1330 5660,1380 5700,1450C5740,1520 5745,1600 5745,1700L5745,2261C5740,2290 5700,2300 5595,2325C5500,2345 5300,2350 5050,2352L4310,2366L2880,2386C2500,2398 2200,2410 2032,2420"/>
<path class="a" d="M2778,1368C2900,1362 3050,1352 3150,1335C3231,1317 3290,1290 3284,1213C3270,1100 3230,980 3150,920C3060,850 3026,750 3023,632"/>
<path class="a" d="M2023,2426C2200,2414 2500,2402 2880,2392L3250,2366C3300,2354 3400,2348 3527,2339C3600,2329 3661,2304 3661,2267L3664,2022C3660,1980 3640,1950 3600,1940C3540,1930 3500,1920 3490,1910C3420,1820 3330,1740 3315,1624L3296,1103C3280,1050 3250,1000 3200,950C3100,860 3050,750 3041,632"/>
<path class="t" d="M2756,996L2756,1041"/>
<path class="a" d="M2756,1087L2756,1133"/>
<path class="t" d="M2744,1207L2733,1241"/>
<path class="a" d="M2661,1201C2620,1240 2605,1290 2652,1347"/>
<path class="a" d="M2711,1315L2705,1347"/>
<path class="a" d="M3033,1195C2950,1215 2860,1230 2795,1258"/>
<path class="a" d="M3014,1100C2990,1160 2960,1200 2908,1219C2860,1235 2830,1245 2797,1262"/>
<path class="t" d="M3070,1100L3088,1132"/>
<path class="t" d="M3046,981L3046,1026"/>
<path class="t" d="M2917,1305C2860,1320 2800,1335 2768,1350"/>
<path class="a" d="M3749,984L3195,1146"/>
<path class="a" d="M3934,981C4100,1010 4300,1066 4310,1066C4500,1100 4700,1140 4876,1158"/>
<path class="t" d="M3950,966C4100,975 4250,984 4330,987C4500,1000 4650,1020 4770,1040"/>
<path class="a" d="M4782,1088C4600,1105 4450,1125 4310,1130L3214,1167"/>
<path class="a" d="M4920,1100L4948,1133"/>
<path class="t" d="M5415,1085L5083,1150"/>
<path class="a" d="M3819,887L3825,918"/>
<path class="a" d="M4110,880L3934,932"/>
<path class="t" d="M4082,752L4161,815"/>
<path class="a" d="M4508,1060C4400,1040 4220,1000 4120,945C4030,890 4020,820 3943,798C3820,790 3680,790 3597,740"/>
<path class="a" d="M4247,759C4180,790 4080,800 3943,800C3820,798 3680,794 3598,742"/>
<path class="a" d="M3583,865C3640,888 3700,894 3805,894C4000,905 4300,937 4553,950"/>
<path class="a" d="M4638,994L4620,1025"/>
<path class="a" d="M4731,986L4820,1032"/>
<path class="a" d="M4999,1206C5030,1280 5040,1340 5040,1450L5041,1950C5045,2000 5055,2030 5068,2062"/>
<path class="a" d="M5503,1100C5480,1160 5466,1226 5466,1300L5461,1900C5458,1960 5420,1995 5327,2041C5260,2070 5220,2080 5170,2090"/>
<path class="t" d="M5503,527C5600,560 5700,600 5706,700L5706,950C5700,1100 5656,1250 5653,1400L5653,1992C5650,2040 5620,2070 5586,2081C5500,2111 5400,2133 5188,2148C5000,2150 4850,2152 4700,2181"/>
<path class="a" d="M5521,517C5650,560 5720,610 5735,700L5738,960C5735,1200 5702,1500 5702,1700L5702,2102C5700,2130 5680,2150 5586,2188C5466,2243 5300,2280 5050,2292C4950,2298 4870,2302 4832,2308"/>
<path class="t" d="M4391,2032L4391,2062"/>
<path class="a" d="M4352,2136L4322,2170"/>
<path class="a" d="M4453,2132L4537,2177"/>
<path class="a" d="M4476,2122L4800,2186"/>
<path class="a" d="M4458,2022C4500,2050 4540,2090 4576,2170"/>
<path class="t" d="M4481,2021C4550,2035 4700,2040 4900,2050C4960,2055 4990,2065 5011,2075"/>
<path class="t" d="M4210,2010C4260,2030 4300,2038 4400,2041L4948,2058C4980,2062 5000,2068 5012,2077"/>
<path class="a" d="M4200,2017C4280,2036 4330,2040 4500,2042L4930,2050C4955,2060 4950,2120 4925,2170"/>
<path class="a" d="M4747,2139L4747,2290"/>
<path class="t" d="M4795,2136L4838,2173"/>
<path class="a" d="M4652,2240L4717,2292"/>
<path class="a" d="M4844,2241L4782,2292"/>
<path class="a" d="M4587,2245L4535,2383"/>
<path class="a" d="M4888,2245C4880,2300 4860,2340 4800,2370C4720,2395 4650,2405 4597,2412"/>
<path class="a" d="M4708,2335L4577,2390"/>
<path class="a" d="M4504,2384C4490,2320 4470,2250 4423,2139"/>
<path class="a" d="M5094,2138L5096,2185"/>
<path class="a" d="M5148,2070C5190,2050 5205,2090 5200,2120C5195,2150 5170,2160 5135,2135"/>
<path class="a" d="M4114,1924L4114,1958"/>
<path class="a" d="M4223,1804L4170,1852"/>
<path class="t" d="M4008,1818L4068,1854"/>
<path class="a" d="M3950,1820C3955,1880 3965,1925 4027,1964"/>
<path class="a" d="M4190,2018C4230,2040 4270,2060 4300,2078"/>
<path class="a" d="M4087,2032C4060,2100 4045,2175 4042,2300L4036,2490"/>
<path class="t" d="M4099,2032C4092,2100 4091,2180 4138,2267C4200,2350 4300,2380 4422,2410"/>
<path class="a" d="M4435,2438C4380,2460 4250,2480 4113,2512"/>
<path class="t" d="M3925,2444L3985,2493"/>
<path class="a" d="M3893,2445L3893,2595"/>
<path class="a" d="M3988,2557L3940,2598"/>
<path class="a" d="M2931,1915L3023,1964"/>
<path class="a" d="M3107,1819C3100,1870 3090,1920 3085,1957"/>
<path class="t" d="M3045,1810L2940,1863"/>
<path class="t" d="M3111,2029L3148,2079"/>
<path class="a" d="M3081,2032C3083,2100 3090,2150 3106,2186"/>
<path class="a" d="M3157,2123L3135,2185"/>
<path class="t" d="M3365,2130L3187,2190"/>
<path class="a" d="M3421,2137L3240,2291"/>
<path class="a" d="M3141,2231L3185,2291"/>
<path class="a" d="M3608,1910L3570,1972"/>
<path class="a" d="M3544,2016L3501,2063"/>
<path class="t" d="M3606,1820L3609,1864"/>
<path class="a" d="M2443,1795C2600,1830 2700,1850 2795,1870"/>
<path class="a" d="M2818,1816L2850,1853"/>
<path class="a" d="M3153,1697L3134,1745"/>
<path class="a" d="M3268,1684C3450,1710 3650,1740 3814,1760"/>
<path class="a" d="M3953,1712L3953,1745"/>
<path class="t" d="M4253,1605L4253,1651"/>
<path class="a" d="M4253,1698L4253,1759"/>
<path class="a" d="M2968,1498L2972,1544"/>
<path class="a" d="M3023,1490L3117,1537"/>
<path class="a" d="M3176,1498L3176,1530"/>
<path class="a" d="M2961,1591L2940,1651"/>
<path class="a" d="M3174,1605L3169,1651"/>
<path class="t" d="M1981,1591L2050,1652"/>
<path class="a" d="M2124,1693L2309,1762"/>
<path class="a" d="M2624,1373C2450,1395 2300,1420 2226,1440"/>
<path class="a" d="M2633,1385L2443,1435"/>
<path class="a" d="M2661,1392L2577,1442"/>
<path class="a" d="M2696,1393L2690,1437"/>
<path class="t" d="M2778,1377C2900,1385 3000,1400 3100,1436"/>
<path class="t" d="M2755,1389C2800,1405 2860,1420 2900,1434"/>
<path class="a" d="M2642,1483C2560,1510 2400,1515 2300,1516C2260,1518 2230,1530 2208,1546"/>
<path class="a" d="M2647,1483C2580,1510 2450,1520 2392,1525C2370,1530 2358,1540 2351,1548"/>
<path class="a" d="M2652,1484C2600,1505 2530,1520 2476,1548"/>
<path class="a" d="M2661,1486L2592,1547"/>
<path class="a" d="M2684,1484L2682,1545"/>
<path class="a" d="M2711,1483L2781,1545"/>
<path class="a" d="M2804,1545C2795,1480 2770,1430 2735,1393"/>
<path class="a" d="M2725,1349C2760,1335 2800,1345 2805,1370C2808,1395 2780,1402 2752,1390"/>
<path class="a" d="M721,978L797,1041"/>
<path class="a" d="M689,978C690,1050 720,1110 786,1152"/>
<path class="t" d="M915,990L860,1043"/>
<path class="a" d="M962,993C962,1050 955,1110 912,1148"/>
<path class="a" d="M945,886C880,905 838,930 833,960L829,1040"/>
<path class="a" d="M1043,885C1060,920 1062,960 1062,1000C1060,1060 980,1110 914,1150"/>
<path class="a" d="M839,1087L855,1146"/>
<path class="t" d="M1142,1090L926,1153"/>
<path class="a" d="M1147,1088C1060,1130 1020,1150 1000,1200C985,1230 960,1240 935,1255"/>
<path class="a" d="M872,1193L890,1254"/>
<path class="t" d="M1082,1198L952,1258"/>
<path class="a" d="M1091,1204C1040,1250 1010,1290 986,1347"/>
<path class="a" d="M918,1300L943,1347"/>
<path class="t" d="M1102,1305L1008,1352"/>
<path class="a" d="M1131,1312C1090,1370 1040,1410 1008,1438"/>
<path class="a" d="M969,1393L976,1437"/>
<path class="t" d="M1156,1389L1026,1444"/>
<path class="a" d="M1154,1392C1110,1440 1070,1480 1050,1545"/>
<path class="a" d="M996,1484L1022,1545"/>
<path class="t" d="M1199,1483L1082,1547"/>
<path class="a" d="M1227,1484C1200,1560 1160,1610 1119,1625C1090,1640 1070,1648 1046,1655"/>
<path class="a" d="M1030,1591L1017,1652"/>
<path class="t" d="M1158,1698L1151,1744"/>
<path class="a" d="M976,1696L718,1867"/>
<path class="t" d="M316,1790C420,1810 540,1830 638,1868"/>
<path class="t" d="M1073,1798L731,1882"/>
<path class="a" d="M215,1816L113,1972"/>
<path class="a" d="M245,1818L271,1972"/>
<path class="a" d="M1144,1818L1144,1972"/>
<path class="a" d="M645,1906C580,1930 400,1945 150,1970"/>
<path class="a" d="M650,1908C560,1940 420,1955 330,1972"/>
<path class="a" d="M379,1924L315,1972"/>
<path class="t" d="M680,1912L680,1958"/>
<path class="a" d="M722,1900C850,1930 1000,1950 1090,1975"/>
<path class="a" d="M90,2018L90,2078"/>
<path class="a" d="M90,2124L90,2185"/>
<path class="a" d="M479,2032L479,2078"/>
<path class="t" d="M488,2124L504,2185"/>
<path class="a" d="M668,2032C655,2100 620,2150 557,2188"/>
<path class="t" d="M705,2030L733,2080"/>
<path class="t" d="M871,2016L784,2080"/>
<path class="a" d="M899,2018C890,2080 850,2140 793,2186"/>
<path class="a" d="M707,2119L557,2190"/>
<path class="a" d="M750,2124L750,2185"/>
<path class="a" d="M1143,2018L1143,2078"/>
<path class="a" d="M1130,2124L1110,2185"/>
<path class="a" d="M1179,2121L1276,2189"/>
<path class="a" d="M1345,2186C1380,2160 1435,2165 1435,2210C1435,2245 1390,2250 1352,2231"/>
<path class="a" d="M467,2227L357,2284"/>
<path class="a" d="M509,2231L509,2277"/>
<path class="a" d="M740,2231L728,2291"/>
<path class="a" d="M1059,2230L965,2292"/>
<path class="a" d="M1105,2231L1124,2291"/>
<path class="a" d="M1318,2231L1332,2291"/>
<path class="a" d="M291,2351L291,2383"/>
<path class="a" d="M365,2340C420,2380 455,2430 463,2505"/>
<path class="a" d="M719,2337L719,2399"/>
<path class="a" d="M1338,2337L1338,2399"/>
<path class="t" d="M291,2457L291,2505"/>
<path class="a" d="M719,2445L719,2505"/>
<path class="a" d="M264,2549L186,2611"/>
<path class="a" d="M294,2551L298,2610"/>
<path class="a" d="M328,2548L425,2612"/>
<path class="a" d="M472,2551L472,2610"/>
<path class="a" d="M719,2551L719,2610"/>
<path class="a" d="M1510,2531C1300,2540 800,2575 640,2592C590,2598 555,2605 530,2613"/>
<path class="a" d="M479,2656L490,2704"/>
<path class="a" d="M448,2656C420,2700 405,2740 398,2794"/>
<path class="t" d="M719,2656L719,2704"/>
<path class="a" d="M473,2748L421,2795"/>
<path class="a" d="M515,2749L532,2782"/>
<path class="a" d="M1697,2338L1884,2401"/>
<path class="a" d="M2046,2347L1991,2388"/>
<path class="a" d="M1879,2442L1701,2501"/>
<path class="a" d="M1946,2457L1946,2491"/>
<path class="a" d="M2013,2442L2200,2502"/>
<path class="a" d="M1616,2565L1616,2610"/>
<path class="a" d="M2203,2552C2050,2590 1850,2615 1690,2630"/>
<path class="a" d="M2258,2565L2232,2610"/>
<path class="a" d="M2309,2565L2338,2611"/>
<path class="a" d="M3040,2214C2700,2215 2300,2242 2000,2264C1900,2272 1800,2287 1714,2303"/>
<path class="a" d="M1939,2383C1938,2320 1950,2280 2000,2265C2100,2250 2500,2228 2880,2215C2960,2212 3010,2208 3040,2206"/>
</g>
</g>
</svg>
